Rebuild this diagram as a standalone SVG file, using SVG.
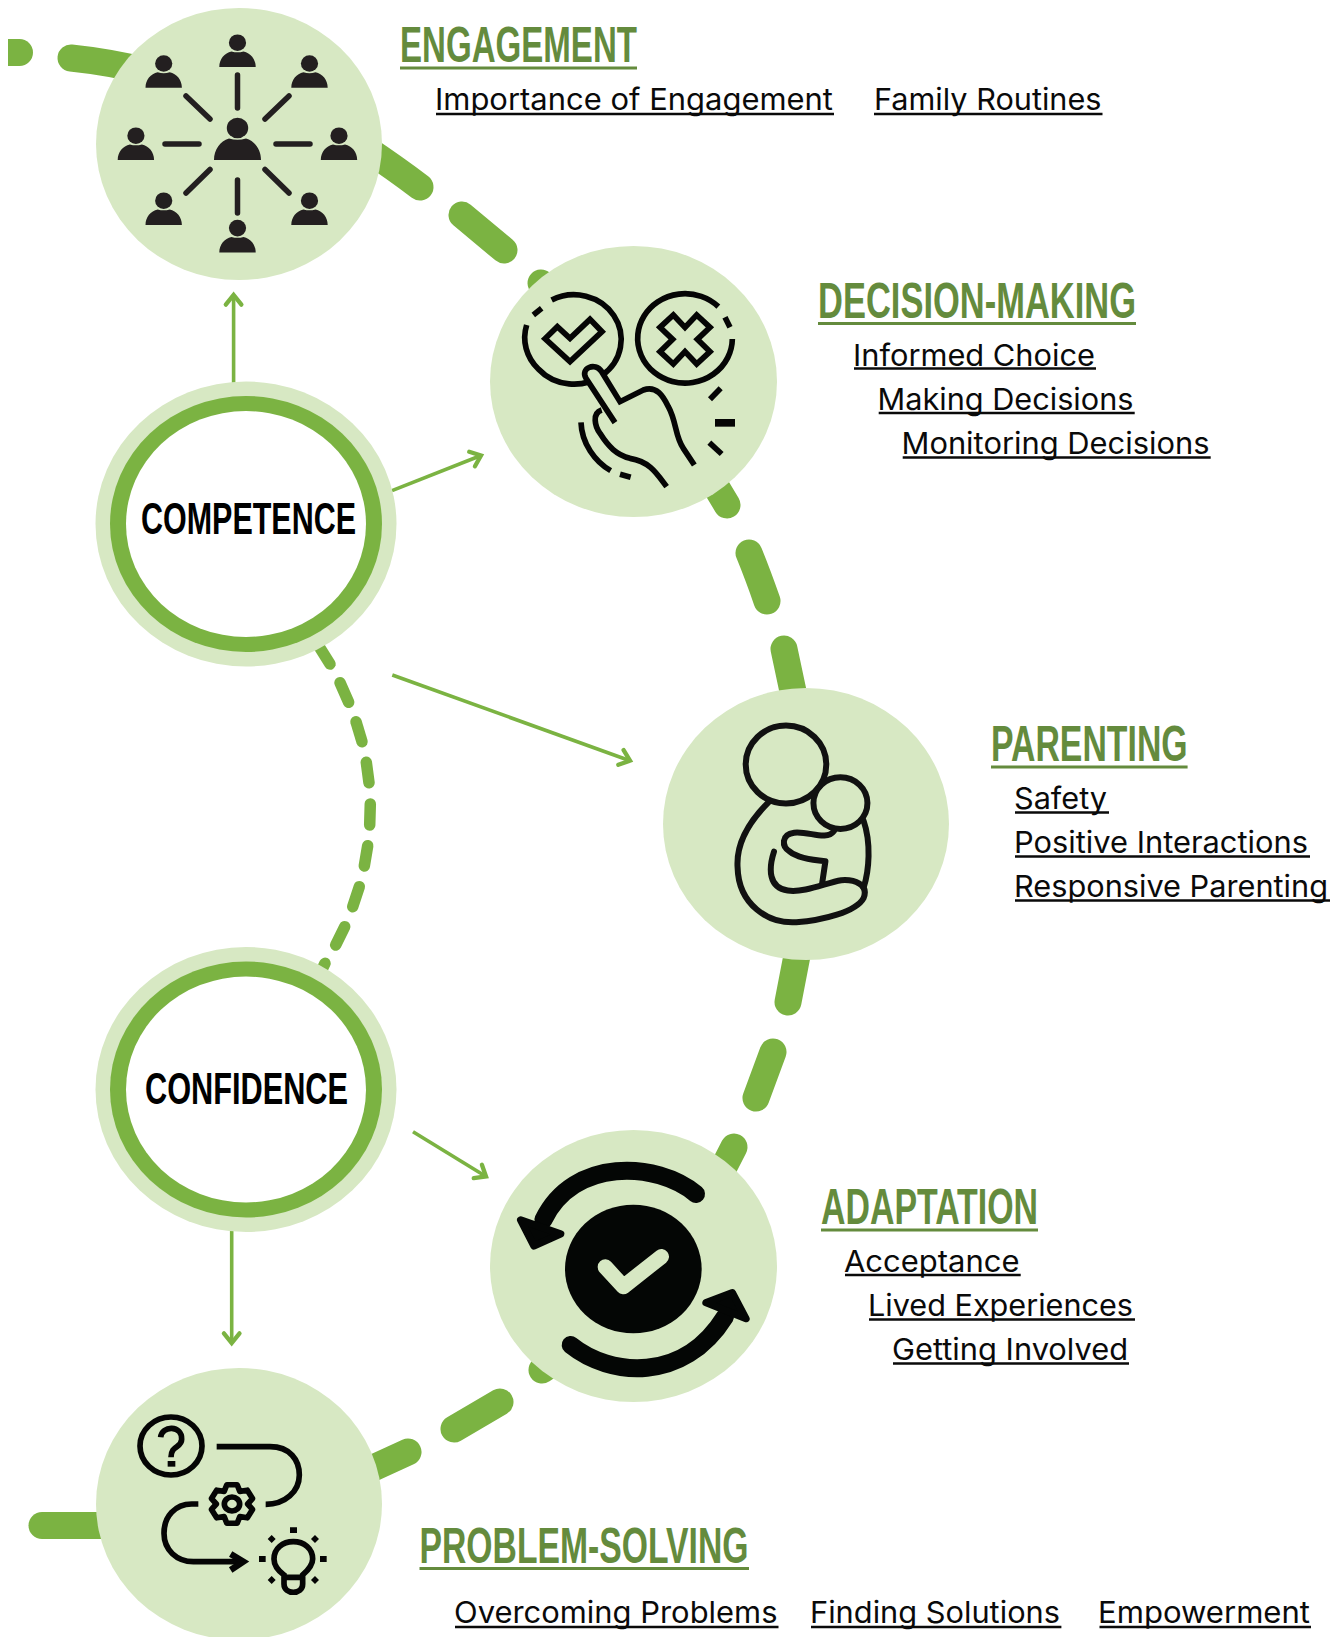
<svg xmlns="http://www.w3.org/2000/svg" width="1344" height="1637" viewBox="0 0 1344 1637">
<style>
.disc{fill:#d7e8c3}
.ring{fill:#7bb342}
.hole{fill:#fff}
.dash{fill:none;stroke:#7bb342;stroke-width:27;stroke-linecap:round}
.thin{fill:none;stroke:#7bb342;stroke-width:11.5;stroke-linecap:round}
.arrow{fill:none;stroke:#7bb342;stroke-width:3.6;marker-end:url(#head)}
.title{font-family:"Liberation Sans Narrow","Liberation Sans",sans-serif;font-weight:700;font-size:50px;fill:#648b3d}
.key{font-family:"Liberation Sans Narrow","Liberation Sans",sans-serif;font-weight:700;font-size:45px;fill:#000}
.item{font-family:Inter,"Liberation Sans",sans-serif;font-size:30px;fill:#0a0a0a}
.ut{stroke:#648b3d;stroke-width:3}
.ui{stroke:#0a0a0a;stroke-width:2.4}
.ink{fill:none;stroke:#050505;stroke-width:17;stroke-linejoin:miter}
.inkr{fill:none;stroke:#040605;stroke-linecap:round;stroke-linejoin:round}
.spoke{stroke:#231f20;stroke-width:5.5;stroke-linecap:round}
.blk{fill:#040605}
</style>
<defs>
<marker id="head" markerUnits="userSpaceOnUse" markerWidth="24" markerHeight="24" viewBox="-14 -10 18 20" refX="0" refY="0" orient="auto">
<path d="M-8,-6.5 L0,0 L-8,6.5" fill="none" stroke="#7bb342" stroke-width="3.6" stroke-linecap="round" stroke-linejoin="miter"/>
</marker>
<g id="person"><ellipse cx="0" cy="-24.3" rx="8.6" ry="8.3" fill="#231f20"/><path d="M-18.2,0 C-18.2,-8 -13,-14 -6,-15.5 Q0,-13.8 6,-15.5 C13,-14 18.2,-8 18.2,0 Z" fill="#231f20"/></g>
</defs>
<g id="connectors">
<path d="M8,39 H19.5 A13.5,13.5 0 0 1 19.5,66 H8 Z" fill="#7bb342"/>
<path class="dash" d="M71,58 Q110,62 150,72"/>
<path class="dash" d="M365,148 Q395,168 420,187"/>
<path class="dash" d="M462,215 L504,250"/>
<path class="dash" d="M541,283 L565,305"/>
<path class="dash" d="M700,460 L727,505"/>
<path class="dash" d="M749,553 Q758,575 767,601"/>
<path class="dash" d="M784,649 L798,715"/>
<path class="dash" d="M800,940 L788,1002"/>
<path class="dash" d="M773,1052 L756,1098"/>
<path class="dash" d="M734,1147 L712,1190"/>
<path class="dash" d="M542,1370 L575,1348"/>
<path class="dash" d="M500,1402 L454,1429"/>
<path class="dash" d="M408,1452 L360,1474"/>
<path class="dash" d="M42,1525.5 H115"/>
<path class="thin" d="M315,640 L330,664"/>
<path class="thin" d="M340,682.7 L348.7,702.3"/>
<path class="thin" d="M356,721.7 L362,741.7"/>
<path class="thin" d="M366.3,762.3 L369,782.7"/>
<path class="thin" d="M370.3,804 L369.7,825"/>
<path class="thin" d="M367.7,845.7 L364.3,866"/>
<path class="thin" d="M359.3,886.7 L352.7,906.7"/>
<path class="thin" d="M344.7,926.7 L335.7,945"/>
<path class="thin" d="M325,963.3 L318,978"/>
<path class="arrow" d="M233.6,385 V295"/>
<path class="arrow" d="M392,490.7 L481,455.5"/>
<path class="arrow" d="M392.3,675 L630,760.7"/>
<path class="arrow" d="M413,1131.7 L486,1176.5"/>
<path class="arrow" d="M231.7,1228 V1343"/>
</g>
<g id="competence">
<ellipse class="disc" cx="246" cy="524" rx="150.5" ry="142.5"/>
<ellipse class="ring" cx="246" cy="524" rx="136" ry="128"/>
<ellipse class="hole" cx="246" cy="524" rx="120" ry="113"/>
<text class="key" x="141" y="534" textLength="215" lengthAdjust="spacingAndGlyphs">COMPETENCE</text>
</g>
<g id="confidence">
<ellipse class="disc" cx="246" cy="1089.5" rx="150.5" ry="142.5"/>
<ellipse class="ring" cx="246" cy="1089.5" rx="136" ry="128"/>
<ellipse class="hole" cx="246" cy="1089.5" rx="120" ry="113"/>
<text class="key" x="145" y="1104" textLength="203" lengthAdjust="spacingAndGlyphs">CONFIDENCE</text>
</g>
<g id="engagement">
<ellipse class="disc" cx="239" cy="144" rx="143" ry="136"/>
<use href="#person" x="237.5" y="67"/>
<use href="#person" x="163.7" y="87.8"/>
<use href="#person" x="309.5" y="87.8"/>
<use href="#person" x="135.9" y="160"/>
<use href="#person" x="339" y="160"/>
<use href="#person" x="163.7" y="225"/>
<use href="#person" x="309.5" y="225"/>
<use href="#person" x="237.5" y="252.4"/>
<ellipse cx="237.5" cy="128" rx="10.7" ry="10.3" fill="#231f20"/>
<path d="M214,160 C214,150 220,141 229,138.5 Q237.5,141 246,138.5 C255,141 261,150 261,160 Z" fill="#231f20"/>
<path class="spoke" d="M237.5,75 V108 M237.5,180 V213 M165,144 H199 M276,144 H310 M186,96 L210,119 M289,96 L265,119 M210,169.5 L186,193 M265,169.5 L289,193"/>
<text class="title" x="400" y="62" textLength="237" lengthAdjust="spacingAndGlyphs">ENGAGEMENT</text>
<line class="ut" x1="400" y1="68" x2="637" y2="68"/>
<text class="item" x="435" y="109.5" textLength="398" lengthAdjust="spacingAndGlyphs">Importance of Engagement</text>
<line class="ui" x1="436" y1="114" x2="834" y2="114"/>
<text class="item" x="874" y="109.5" textLength="227.5" lengthAdjust="spacingAndGlyphs">Family Routines</text>
<line class="ui" x1="874" y1="114" x2="1102.5" y2="114"/>
</g>
<g id="decision-making">
<ellipse class="disc" cx="633.5" cy="381.5" rx="143.5" ry="135.5"/>
<g transform="translate(480,240) scale(.33333)">
<path class="ink" d="M215,180 A142,134 0 1 1 175,387 A142,134 0 0 1 140,255"/>
<path class="ink" d="M160,225 L185,205"/>
<path class="ink" d="M195,296 L232,260 L270,295 L330,238 L366,275 L270,365 Z"/>
<path class="ink" d="M715,200 A142,134 0 1 0 757,297"/>
<path class="ink" d="M735,232 L750,262"/>
<path class="ink" d="M580,225 L615,262 L650,225 L690,262 L652,298 L690,335 L650,372 L615,335 L580,372 L540,335 L578,298 L540,262 Z"/>
<path class="ink" d="M722,445 L690,478"/>
<path d="M705,537 H765 V560 H705 Z" fill="#050505"/>
<path class="ink" d="M688,608 L725,642"/>
<path class="ink" style="fill:#d7e8c3" d="M405,548 L318,415 C300,385 345,365 365,395 L420,485 L490,450 C530,435 550,470 565,500 C590,545 585,590 610,625 L643,675"/>
<path class="ink" d="M365,510 C335,520 345,560 360,580 C385,620 410,645 450,655 C510,665 530,700 560,740"/>
<path class="ink" d="M303,547 C305,610 345,665 392,692"/>
<path class="ink" d="M420,703 L452,712"/>
</g>
<text class="title" x="818" y="318" textLength="318" lengthAdjust="spacingAndGlyphs">DECISION-MAKING</text>
<line class="ut" x1="818" y1="323.5" x2="1136" y2="323.5"/>
<text class="item" x="853" y="366" textLength="242" lengthAdjust="spacingAndGlyphs">Informed Choice</text>
<line class="ui" x1="854" y1="368.5" x2="1096" y2="368.5"/>
<text class="item" x="877.5" y="409.5" textLength="256" lengthAdjust="spacingAndGlyphs">Making Decisions</text>
<line class="ui" x1="878.7" y1="413" x2="1134.7" y2="413"/>
<text class="item" x="901.5" y="454" textLength="308" lengthAdjust="spacingAndGlyphs">Monitoring Decisions</text>
<line class="ui" x1="902.7" y1="457.5" x2="1210.7" y2="457.5"/>
</g>
<g id="parenting">
<ellipse class="disc" cx="806" cy="824" rx="143" ry="136"/>
<g transform="translate(672,540) scale(.42857,.34435)" fill="none" stroke="#111" stroke-linecap="round" stroke-linejoin="round">
<ellipse cx="266" cy="652" rx="94" ry="113" vector-effect="non-scaling-stroke" stroke-width="6"/>
<ellipse cx="393" cy="764" rx="63" ry="75" vector-effect="non-scaling-stroke" stroke-width="6"/>
<path vector-effect="non-scaling-stroke" stroke-width="6" d="M225,762 C170,830 150,890 153,950 C155,1060 225,1115 290,1110 C350,1105 430,1080 447,1040 C460,1000 425,985 395,988 C360,995 310,1025 270,1018 C225,1010 225,955 238,905"/>
<path vector-effect="non-scaling-stroke" stroke-width="6" d="M447,815 C465,880 460,960 447,1010"/>
<path vector-effect="non-scaling-stroke" stroke-width="6" d="M378,845 C360,875 320,845 285,850 C255,855 255,890 275,905 C295,925 330,930 358,933 L350,1000"/>
</g>
<text class="title" x="991" y="761" textLength="196.6" lengthAdjust="spacingAndGlyphs">PARENTING</text>
<line class="ut" x1="991" y1="767" x2="1187.6" y2="767"/>
<text class="item" x="1014" y="809" textLength="93" lengthAdjust="spacingAndGlyphs">Safety</text>
<line class="ui" x1="1015" y1="812.5" x2="1109" y2="812.5"/>
<text class="item" x="1014" y="853" textLength="294" lengthAdjust="spacingAndGlyphs">Positive Interactions</text>
<line class="ui" x1="1015" y1="856.5" x2="1310" y2="856.5"/>
<text class="item" x="1014" y="897" textLength="314" lengthAdjust="spacingAndGlyphs">Responsive Parenting</text>
<line class="ui" x1="1015" y1="900.5" x2="1330" y2="900.5"/>
</g>
<g id="adaptation">
<ellipse class="disc" cx="633.5" cy="1266" rx="143.5" ry="136"/>
<g transform="translate(470,1120) scale(.33333)">
<ellipse class="blk" cx="490" cy="447" rx="205" ry="193"/>
<path class="inkr" stroke-width="46" style="stroke:#d7e8c3" d="M406,441 L460,500 L574,410"/>
<path class="inkr" stroke-width="54" d="M678,222 C560,124 310,112 220,300"/>
<path class="inkr" stroke-width="22" style="fill:#040605" d="M152,300 L272,342 L192,378 Z"/>
<path class="inkr" stroke-width="54" d="M302,675 C420,770 640,790 765,590"/>
<path class="inkr" stroke-width="22" style="fill:#040605" d="M787,518 L828,596 L708,548 Z"/>
</g>
<text class="title" x="821" y="1224" textLength="217" lengthAdjust="spacingAndGlyphs">ADAPTATION</text>
<line class="ut" x1="821" y1="1230" x2="1038" y2="1230"/>
<text class="item" x="844" y="1271.5" textLength="175.5" lengthAdjust="spacingAndGlyphs">Acceptance</text>
<line class="ui" x1="845" y1="1275" x2="1020.7" y2="1275"/>
<text class="item" x="868" y="1316" textLength="265" lengthAdjust="spacingAndGlyphs">Lived Experiences</text>
<line class="ui" x1="869" y1="1319.5" x2="1135" y2="1319.5"/>
<text class="item" x="892" y="1360" textLength="236" lengthAdjust="spacingAndGlyphs">Getting Involved</text>
<line class="ui" x1="893" y1="1363.5" x2="1129" y2="1363.5"/>
</g>
<g id="problem-solving">
<ellipse class="disc" cx="239" cy="1504" rx="143" ry="136"/>
<g transform="translate(90,1360) scale(.33333)">
<ellipse class="ink" cx="243" cy="258" rx="93" ry="87"/>
<path class="ink" d="M212,232 C215,195 277,195 275,238 C275,265 243,255 243,292"/>
<path d="M233,303 H256 V320 H233 Z" fill="#050505"/>
<path class="ink" d="M380,260 H540 C600,260 628,300 628,345 C628,395 585,433 527,433"/>
<path class="ink" style="stroke-linejoin:round" d="M410.5,374.3 L441.5,374.3 L449.5,394.1 L472,390.6 L487.5,415.6 L473,432 L487.5,448.4 L472,473.4 L449.5,469.9 L441.5,489.7 L410.5,489.7 L402.5,469.9 L380,473.4 L364.5,448.4 L379,432 L364.5,415.6 L380,390.6 L402.5,394.1 Z"/>
<ellipse class="ink" cx="426" cy="432" rx="23" ry="21"/>
<path class="ink" d="M325,432 H305 C255,432 222,470 222,520 C222,570 260,605 310,605 H455"/>
<path class="ink" style="stroke-width:19" d="M422,582 L460,605 L422,630"/>
<path class="ink" d="M582,645 C555,625 552,610 552,597 C552,565 578,545 610,545 C642,545 668,565 668,597 C668,615 655,630 638,645 V672 C638,705 582,705 582,672 Z M582,652 H638"/>
<path d="M600,502 H621 V519 H600 Z M507,588 H527 V606 H507 Z M690,588 H710 V606 H690 Z M545,525 L557,537 L545,549 L533,537 Z M675,525 L687,537 L675,549 L663,537 Z M545,648 L557,660 L545,672 L533,660 Z M675,648 L687,660 L675,672 L663,660 Z" fill="#050505"/>
</g>
<text class="title" x="419.5" y="1563" textLength="329" lengthAdjust="spacingAndGlyphs">PROBLEM-SOLVING</text>
<line class="ut" x1="419.5" y1="1568.5" x2="749" y2="1568.5"/>
<text class="item" x="454" y="1622.5" textLength="323.5" lengthAdjust="spacingAndGlyphs">Overcoming Problems</text>
<line class="ui" x1="455" y1="1627" x2="778.5" y2="1627"/>
<text class="item" x="810" y="1622.5" textLength="250" lengthAdjust="spacingAndGlyphs">Finding Solutions</text>
<line class="ui" x1="811" y1="1627" x2="1061.4" y2="1627"/>
<text class="item" x="1098" y="1622.5" textLength="212" lengthAdjust="spacingAndGlyphs">Empowerment</text>
<line class="ui" x1="1099.5" y1="1627" x2="1311" y2="1627"/>
</g>
</svg>
